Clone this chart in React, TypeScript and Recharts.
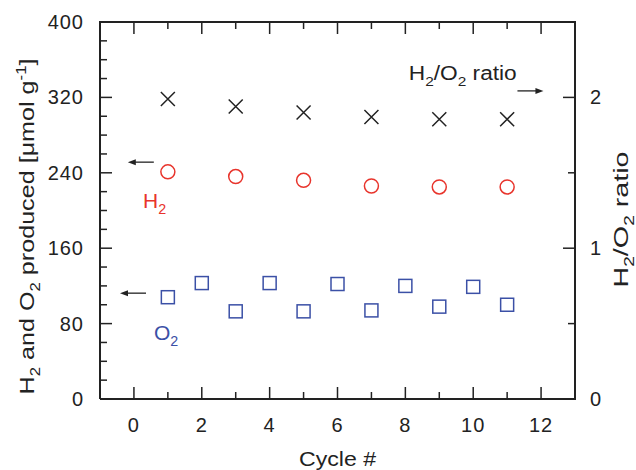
import { ScatterChart, Scatter, XAxis, YAxis, ReferenceDot } from 'recharts'

// cycles and measured values
const h2Cycles = [1, 3, 5, 7, 9, 11]
const h2Values = [241, 236, 232, 226, 225, 225]
const o2Cycles = [1, 2, 3, 4, 5, 6, 7, 8, 9, 10, 11]
const o2Values = [108, 123, 93, 123, 93, 122, 94, 120, 98, 119, 100]
const ratioCycles = [1, 3, 5, 7, 9, 11]
const ratioValues = [1.99, 1.94, 1.9, 1.87, 1.855, 1.855]

// axis ticks
const xTicks = [-1, 0, 1, 2, 3, 4, 5, 6, 7, 8, 9, 10, 11, 12, 13]
const xLabelTicks = [0, 2, 4, 6, 8, 10, 12]
const leftTicks = [0, 20, 40, 60, 80, 100, 120, 140, 160, 180, 200, 220, 240, 260, 280, 300, 320, 340, 360, 380, 400]
const leftLabelTicks = [0, 80, 160, 240, 320, 400]
const rightTicks = [0, 0.5, 1, 1.5, 2, 2.5]
const rightLabelTicks = [0, 1, 2]

const X_MIN = -1
const X_MAX = 13
const Y_MAX = 400
const R_MAX = 2.5

const pts = (xs: number[], ys: number[]) => xs.map((x, i) => ({ x, y: ys[i] }))
const h2Data = pts(h2Cycles, h2Values)
const o2Data = pts(o2Cycles, o2Values)
const ratioData = pts(ratioCycles, ratioValues)

// layout
const W = 636
const H = 470
const TOP = 22
const LEFT_W = 100
const RIGHT_W = 61
const BOTTOM_H = 71
const PLOT_W = W - LEFT_W - RIGHT_W
const PLOT_H = H - TOP - BOTTOM_H

const RED = '#e8342c'
const BLUE = '#3b50a6'
const INK = '#222'
const FONT = '"Liberation Sans", Arial, sans-serif'
const MARGIN = 15

const tickLen = (major: boolean) => (major ? 12 : 7)

// left ticks point inward; the top frame edge hangs off the 400 tick
function LeftTick(p: any) {
  const v = p.payload.value
  const major = leftLabelTicks.includes(v)
  const ax = p.x + MARGIN
  return (
    <g>
      <line x1={ax} x2={ax + tickLen(major)} y1={p.y} y2={p.y} stroke={INK} strokeWidth={1.5} />
      {v === Y_MAX && <line x1={ax - 1} x2={ax + PLOT_W + 1} y1={p.y} y2={p.y} stroke={INK} strokeWidth={2} />}
      {major && (
        <text x={p.x - 1} y={p.y} dy="0.35em" textAnchor="end" fontSize={20} fill={INK} fontFamily={FONT} letterSpacing={1}>
          {v}
        </text>
      )}
    </g>
  )
}

// right ticks point inward; the right frame edge rises from the 0 tick
function RightTick(p: any) {
  const v = p.payload.value
  const major = rightLabelTicks.includes(v)
  const ax = p.x - MARGIN
  return (
    <g>
      <line x1={ax} x2={ax - tickLen(major)} y1={p.y} y2={p.y} stroke={INK} strokeWidth={1.5} />
      {v === 0 && <line x1={ax} x2={ax} y1={p.y + 1} y2={p.y - PLOT_H - 1} stroke={INK} strokeWidth={2} />}
      {major && (
        <text x={p.x} y={p.y} dy="0.35em" textAnchor="start" fontSize={20} fill={INK} fontFamily={FONT}>
          {v}
        </text>
      )}
    </g>
  )
}

// bottom ticks, with their mirrored marks along the top frame edge
function BottomTick(p: any) {
  const v = p.payload.value
  const major = xLabelTicks.includes(v)
  const ay = p.y - 26
  const top = ay - PLOT_H
  return (
    <g>
      <line x1={p.x} x2={p.x} y1={ay} y2={ay - tickLen(major)} stroke={INK} strokeWidth={1.5} />
      <line x1={p.x} x2={p.x} y1={top} y2={top + tickLen(major)} stroke={INK} strokeWidth={1.5} />
      {major && (
        <text x={p.x} y={p.y} dy="0.35em" textAnchor="middle" fontSize={20} fill={INK} fontFamily={FONT} letterSpacing={1}>
          {v}
        </text>
      )}
    </g>
  )
}

const Circle = (p: any) => <circle cx={p.cx} cy={p.cy} r={7} fill="none" stroke={RED} strokeWidth={1.5} />
const Square = (p: any) => (
  <rect x={p.cx - 6.5} y={p.cy - 6.5} width={13} height={13} fill="none" stroke={BLUE} strokeWidth={1.5} />
)
const Cross = (p: any) => (
  <path
    d={`M${p.cx - 7},${p.cy - 7}L${p.cx + 7},${p.cy + 7}M${p.cx - 7},${p.cy + 7}L${p.cx + 7},${p.cy - 7}`}
    stroke={INK}
    strokeWidth={1.5}
    fill="none"
  />
)

// arrow drawn from its tip (cx, cy), pointing left or right
const arrow = (dir: number) => (p: any) => (
  <g>
    <line x1={p.cx - dir * 5} x2={p.cx - dir * 26} y1={p.cy} y2={p.cy} stroke={INK} strokeWidth={1.3} />
    <path d={`M${p.cx},${p.cy}L${p.cx - dir * 8},${p.cy - 3}L${p.cx - dir * 8},${p.cy + 3}Z`} fill={INK} />
  </g>
)

const subLabel = (parts: [string, string][], color: string, size: number, len?: number) => (p: any) => (
  <text
    x={p.cx}
    y={p.cy}
    fill={color}
    fontSize={size}
    fontFamily={FONT}
    textLength={len}
    lengthAdjust={len ? 'spacingAndGlyphs' : undefined}
  >
    {parts.map(([main, sub], i) => (
      <tspan key={i}>
        <tspan dy={i === 0 ? 0 : -6}>{main}</tspan>
        {sub && (
          <tspan fontSize={size * 0.68} dy={6}>
            {sub}
          </tspan>
        )}
      </tspan>
    ))}
  </text>
)

function Titles() {
  return (
    <svg width={W} height={H} style={{ position: 'absolute', left: 0, top: 0, pointerEvents: 'none' }}>
      <text
        transform={`translate(27,${TOP + PLOT_H / 2 + 16}) rotate(-90)`}
        textAnchor="middle"
        fontSize={21}
        fill={INK}
        fontFamily={FONT}
        dy="0.35em"
        textLength={336}
        lengthAdjust="spacingAndGlyphs"
      >
        H<tspan fontSize={14} dy={6}>2</tspan>
        <tspan dy={-6}> and O</tspan>
        <tspan fontSize={14} dy={6}>2</tspan>
        <tspan dy={-6}> produced [μmol g</tspan>
        <tspan fontSize={14} dy={-8}>-1</tspan>
        <tspan dy={8}>]</tspan>
      </text>
      <text
        transform={`translate(621,${TOP + PLOT_H / 2 + 9}) rotate(-90)`}
        textAnchor="middle"
        fontSize={21}
        fill={INK}
        fontFamily={FONT}
        dy="0.35em"
        textLength={136}
        lengthAdjust="spacingAndGlyphs"
      >
        H<tspan fontSize={14} dy={6}>2</tspan>
        <tspan dy={-6}>/O</tspan>
        <tspan fontSize={14} dy={6}>2</tspan>
        <tspan dy={-6}> ratio</tspan>
      </text>
      <text
        x={LEFT_W + PLOT_W / 2}
        y={TOP + PLOT_H + 60}
        dy="0.35em"
        textAnchor="middle"
        fontSize={21}
        fill={INK}
        fontFamily={FONT}
        textLength={77}
        lengthAdjust="spacingAndGlyphs"
      >
        Cycle #
      </text>
    </svg>
  )
}

export default function App() {
  return (
    <div style={{ position: 'absolute', left: 0, top: 0, width: W, height: H, background: '#fff' }}>
      <ScatterChart width={W} height={H} margin={{ top: TOP, right: 0, bottom: 0, left: 0 }}>
        <XAxis
          xAxisId="b"
          dataKey="x"
          type="number"
          domain={[X_MIN, X_MAX]}
          ticks={xTicks}
          interval={0}
          height={BOTTOM_H}
          tickSize={0}
          tickMargin={26}
          tickLine={false}
          axisLine={{ stroke: INK, strokeWidth: 2 }}
          tick={BottomTick}
        />
        <YAxis
          yAxisId="l"
          dataKey="y"
          type="number"
          domain={[0, Y_MAX]}
          ticks={leftTicks}
          interval={0}
          width={LEFT_W}
          tickSize={0}
          tickMargin={MARGIN}
          tickLine={false}
          axisLine={{ stroke: INK, strokeWidth: 2 }}
          tick={LeftTick}
        />
        <YAxis
          yAxisId="r"
          orientation="right"
          dataKey="y"
          type="number"
          domain={[0, R_MAX]}
          ticks={rightTicks}
          interval={0}
          width={RIGHT_W}
          tickSize={0}
          tickMargin={MARGIN}
          tickLine={false}
          axisLine={{ stroke: INK, strokeWidth: 2 }}
          tick={RightTick}
        />
        <Scatter xAxisId="b" yAxisId="r" data={ratioData} shape={Cross} isAnimationActive={false} />
        <Scatter xAxisId="b" yAxisId="l" data={h2Data} shape={Circle} isAnimationActive={false} />
        <Scatter xAxisId="b" yAxisId="l" data={o2Data} shape={Square} isAnimationActive={false} />

        <ReferenceDot xAxisId="b" yAxisId="l" x={-0.18} y={251.3} r={0} shape={arrow(-1)} />
        <ReferenceDot xAxisId="b" yAxisId="l" x={-0.41} y={112.3} r={0} shape={arrow(-1)} />
        <ReferenceDot xAxisId="b" yAxisId="l" x={12.07} y={326.9} r={0} shape={arrow(1)} />
        <ReferenceDot xAxisId="b" yAxisId="l" x={0.27} y={202.6} r={0} shape={subLabel([['H', '2']], RED, 21)} />
        <ReferenceDot xAxisId="b" yAxisId="l" x={0.59} y={62.8} r={0} shape={subLabel([['O', '2']], BLUE, 21)} />
        <ReferenceDot
          xAxisId="b"
          yAxisId="l"
          x={8.1}
          y={338.2}
          r={0}
          shape={subLabel([['H', '2'], ['/O', '2'], [' ratio', '']], INK, 20, 108)}
        />
      </ScatterChart>
      <Titles />
    </div>
  )
}
